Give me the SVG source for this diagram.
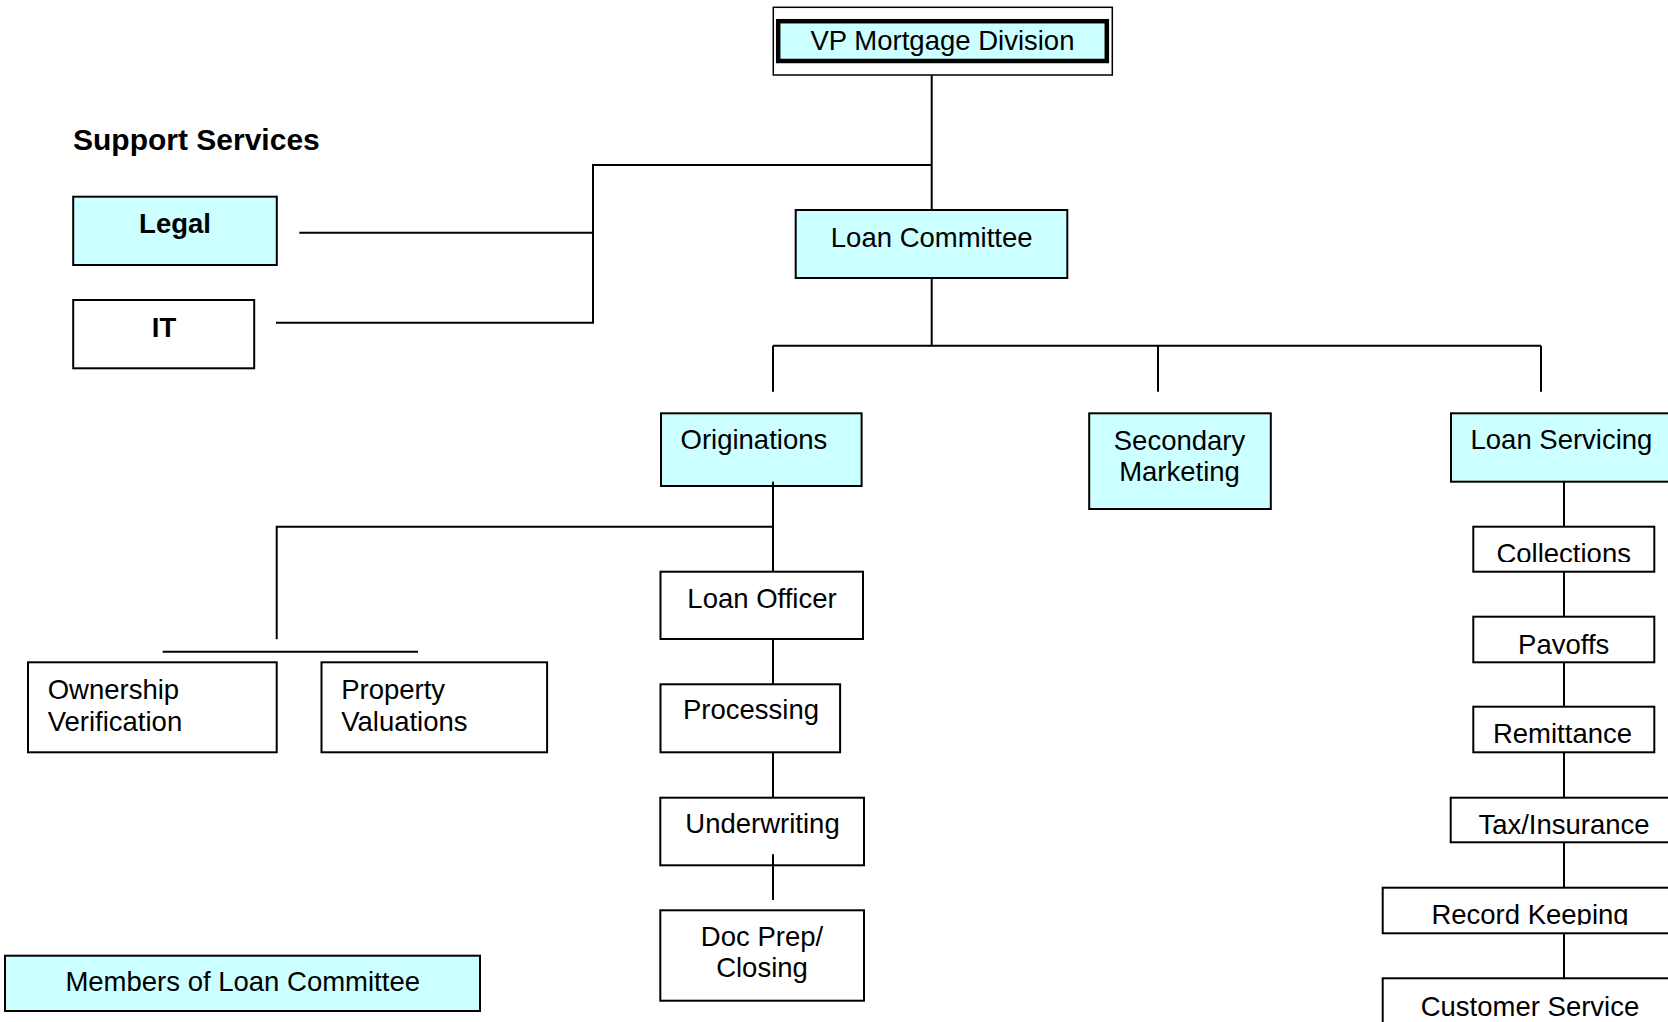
<svg xmlns="http://www.w3.org/2000/svg" width="1668" height="1022" viewBox="0 0 1668 1022">
<style>
.box{stroke:#000;stroke-width:2;fill:#fff}
.cy{fill:#ccffff}
.t{font-family:"Liberation Sans",Arial,sans-serif;font-size:27.5px;fill:#000}
.b{font-weight:bold}
.c{text-anchor:middle}
.ln{stroke:#000;stroke-width:2;fill:none}
</style>
<defs>
<clipPath id="clipColl"><rect x="1473" y="527" width="182" height="35"/></clipPath>
<clipPath id="clipPay"><rect x="1473" y="617" width="182" height="37"/></clipPath>
<clipPath id="clipRec"><rect x="1383" y="888" width="290" height="37"/></clipPath>
</defs>
<rect width="1668" height="1022" fill="#fff"/>
<text class="t b" x="73" y="150" style="font-size:30px">Support Services</text>
<g id="vp">
<rect x="773.3" y="7.3" width="339" height="67.7" fill="#fff" stroke="#000" stroke-width="1.5"/>
<rect class="cy" x="778.2" y="21.2" width="328.6" height="39.8" stroke="#000" stroke-width="4.5"/>
<text class="t c" x="942.5" y="50">VP Mortgage Division</text>
</g>
<g id="loan-committee">
<rect class="box cy" x="795.7" y="210" width="271.6" height="68"/>
<text class="t c" x="931.7" y="247">Loan Committee</text>
</g>
<g id="legal">
<rect class="box cy" x="73.2" y="196.7" width="203.6" height="68.3"/>
<text class="t b c" x="175" y="233">Legal</text>
</g>
<g id="it">
<rect class="box" x="73.2" y="300" width="181" height="68.3"/>
<text class="t b c" x="164" y="336.7">IT</text>
</g>
<g id="originations">
<rect class="box cy" x="661" y="413.3" width="200.6" height="72.7"/>
<text class="t" x="680.5" y="449">Originations</text>
</g>
<g id="secondary-marketing">
<rect class="box cy" x="1089.2" y="413.3" width="181.6" height="95.7"/>
<text class="t c" x="1179.5" y="449.5">Secondary</text>
<text class="t c" x="1179.5" y="480.5">Marketing</text>
</g>
<g id="loan-servicing">
<rect class="box cy" x="1451" y="413.3" width="230" height="68.4"/>
<text class="t" x="1470.5" y="449">Loan Servicing</text>
</g>
<g id="ownership-verification">
<rect class="box" x="28" y="662.3" width="248.7" height="90"/>
<text class="t" x="47.7" y="698.5">Ownership</text>
<text class="t" x="47.7" y="730.5">Verification</text>
</g>
<g id="property-valuations">
<rect class="box" x="321.5" y="662.3" width="225.6" height="90"/>
<text class="t" x="341.2" y="698.5">Property</text>
<text class="t" x="341.2" y="730.5">Valuations</text>
</g>
<g id="loan-officer">
<rect class="box" x="660.5" y="571.7" width="202.5" height="67.3"/>
<text class="t c" x="762" y="608">Loan Officer</text>
</g>
<g id="processing">
<rect class="box" x="660.5" y="684.3" width="179.6" height="68"/>
<text class="t c" x="751" y="719">Processing</text>
</g>
<g id="underwriting">
<rect class="box" x="660.3" y="797.7" width="203.7" height="67.6"/>
<text class="t c" x="762.5" y="833">Underwriting</text>
</g>
<g id="doc-prep">
<rect class="box" x="660.3" y="910.3" width="203.7" height="90.4"/>
<text class="t c" x="762" y="945.5">Doc Prep/</text>
<text class="t c" x="762" y="977">Closing</text>
</g>
<g id="collections">
<rect class="box" x="1473.3" y="526.7" width="181" height="45"/>
<text class="t c" x="1563.7" y="562.5" clip-path="url(#clipColl)">Collections</text>
</g>
<g id="payoffs">
<rect class="box" x="1473.3" y="616.7" width="181" height="45.6"/>
<text class="t c" x="1563.7" y="654" clip-path="url(#clipPay)">Payoffs</text>
</g>
<g id="remittance">
<rect class="box" x="1473.3" y="706.7" width="181" height="45.6"/>
<text class="t c" x="1562.5" y="742.5">Remittance</text>
</g>
<g id="tax-insurance">
<rect class="box" x="1450.7" y="797.7" width="230" height="44.6"/>
<text class="t c" x="1564" y="833.5">Tax/Insurance</text>
</g>
<g id="record-keeping">
<rect class="box" x="1382.7" y="887.7" width="300" height="45.6"/>
<text class="t c" x="1530" y="924" clip-path="url(#clipRec)">Record Keeping</text>
</g>
<g id="customer-service">
<rect class="box" x="1382.7" y="978.3" width="300" height="60"/>
<text class="t c" x="1530" y="1015.5">Customer Service</text>
</g>
<g id="members">
<rect class="box cy" x="5" y="955.7" width="475" height="55.3"/>
<text class="t c" x="242.7" y="990.5">Members of Loan Committee</text>
</g>
<g id="connectors" class="ln">
<path d="M931.7 75 V210"/>
<path d="M931.7 278 V345.7"/>
<path d="M931.7 165 H593 V322.7 H276"/>
<path d="M299.3 232.7 H593"/>
<path d="M773 345.7 H1541"/>
<path d="M773 345.7 V391.7"/>
<path d="M1158 345.7 V391.7"/>
<path d="M1541 345.7 V391.7"/>
<path d="M773 481.7 V571.7"/>
<path d="M773 639 V684.3"/>
<path d="M773 752.3 V797.7"/>
<path d="M773 854.3 V900"/>
<path d="M773 526.7 H276.7 V639.3"/>
<path d="M162.7 651.7 H418"/>
<path d="M1564 481.7 V526.7"/>
<path d="M1564 571.7 V616.7"/>
<path d="M1564 662.3 V706.7"/>
<path d="M1564 752.3 V797.7"/>
<path d="M1564 842.3 V887.7"/>
<path d="M1564 933.3 V978.3"/>
</g>
</svg>
